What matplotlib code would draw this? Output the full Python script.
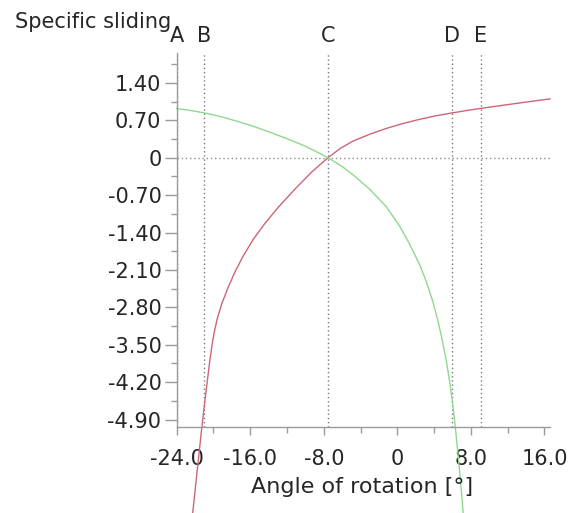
import matplotlib
matplotlib.use("Agg")
import matplotlib.pyplot as plt
from matplotlib.ticker import MultipleLocator, FuncFormatter

# specific sliding of the two flanks over the angle of rotation
red_angle = [-22.26, -21.75, -21.3, -20.95, -20.65, -20.4, -20.15, -19.9, -19.6,
             -19.11, -18.46, -17.67, -16.77, -15.68, -14.41, -12.97, -11.15,
             -9.33, -7.55, -6.2, -4.84, -3.0, -1.17, 0.6, 2.45, 4.2, 6.0,
             7.6, 9.15, 11.2, 13.3, 15.0, 16.6]
red_slide = [-6.65, -5.82, -5.10, -4.58, -4.15, -3.80, -3.50, -3.25, -3.02,
             -2.74, -2.45, -2.14, -1.84, -1.53, -1.23, -0.93, -0.59,
             -0.27, 0.0, 0.175, 0.31, 0.44, 0.55, 0.64, 0.72, 0.785, 0.84,
             0.885, 0.925, 0.975, 1.025, 1.065, 1.10]

green_angle = [-24.0, -22.5, -20.9, -19.2, -17.5, -15.7, -13.9, -12.0, -10.2,
               -9.0, -7.55, -6.0, -4.82, -3.01, -1.19, 0.25, 1.34, 2.42, 3.15,
               3.87, 4.41, 4.89, 5.32, 5.68, 5.98, 6.23, 6.5, 6.77, 6.99, 7.2]
green_slide = [0.92, 0.885, 0.835, 0.77, 0.685, 0.59, 0.48, 0.355, 0.23,
               0.13, 0.0, -0.165, -0.32, -0.59, -0.92, -1.28, -1.62, -2.0, -2.32,
               -2.7, -3.05, -3.42, -3.8, -4.18, -4.56, -4.93, -5.38, -5.87, -6.3, -6.75]

# contact points along the path of contact
point_names = ["A", "B", "C", "D", "E"]
point_angles = [-24.0, -21.0, -7.55, 5.9, 9.1]

x_ticks = [-24, -16, -8, 0, 8, 16]
y_ticks = [1.40, 0.70, 0, -0.70, -1.40, -2.10, -2.80, -3.50, -4.20, -4.90]

W, H = 582, 513
fig = plt.figure(figsize=(W / 100, H / 100), dpi=100)
ax = fig.add_axes([176.7 / W, (H - 427) / H, (550 - 176.7) / W, (427 - 53) / H])

txt = "#262626"
grey = "#9a9a9a"

ax.set_xlim(-24, 16.6)
ax.set_ylim(-5.04, 1.96)

for s in ["top", "right"]:
    ax.spines[s].set_visible(False)
for s in ["left", "bottom"]:
    ax.spines[s].set_color(grey)
    ax.spines[s].set_linewidth(1.0)

ax.set_xticks(x_ticks)
ax.xaxis.set_minor_locator(MultipleLocator(4))
ax.set_yticks(y_ticks)
ax.yaxis.set_minor_locator(MultipleLocator(0.35))

ax.xaxis.set_major_formatter(FuncFormatter(lambda v, p: "0" if abs(v) < 1e-9 else "%.1f" % v))
ax.yaxis.set_major_formatter(FuncFormatter(lambda v, p: "0" if abs(v) < 1e-9 else "%.2f" % v))

ax.tick_params(axis="x", which="major", length=6, width=1, color=grey, labelsize=15,
               labelcolor=txt, pad=10)
ax.tick_params(axis="x", which="minor", length=4, width=1, color=grey)
ax.tick_params(axis="y", which="major", length=9, width=1, color=grey, labelsize=15,
               labelcolor=txt, pad=2)
ax.tick_params(axis="y", which="minor", length=4, width=1, color=grey)

# dotted reference lines
ax.axhline(0, color="#8a8a8a", lw=1, ls=(0, (1, 2)))
for name, a in zip(point_names, point_angles):
    ax.axvline(a, color="#7a7a7a", lw=1, ls=(0, (1, 2)))
    ax.text(a, 1.045, name, transform=ax.get_xaxis_transform(), ha="center",
            va="center", fontsize=15, color=txt)

ax.plot(red_angle, red_slide, color="#cc6677", lw=1.0, clip_on=False)
ax.plot(green_angle, green_slide, color="#8fd88f", lw=1.0, clip_on=False)

fig.text(15 / W, 1 - 22 / H, "Specific sliding", ha="left", va="center",
         fontsize=15, color=txt)
fig.text(362.5 / W, 1 - 486.7 / H, "Angle of rotation [°]", ha="center",
         va="center", fontsize=16, color=txt)

fig.savefig("out.png", dpi=100, facecolor="white")
